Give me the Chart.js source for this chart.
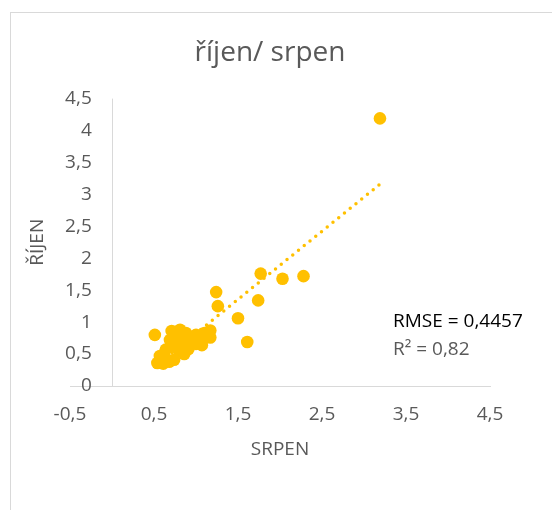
<!DOCTYPE html>
<html>
<head>
<meta charset="utf-8">
<script src="https://cdn.jsdelivr.net/npm/chart.js@4/dist/chart.umd.min.js"></script>
<style>
  body { margin: 0; background: #fff; }
  #frame { position: absolute; left: 10px; top: 12px; width: 600px; height: 600px; border: 1px solid #d9d9d9; }
  #myChart { position: absolute; left: 0; top: 0; }
</style>
</head>
<body>
<div id="frame"></div>
<canvas id="myChart" width="552" height="510"></canvas>
<script>
const ctx = document.querySelector('#myChart');

// srpen (x) / říjen (y)
const srpen = [3.19, 1.77, 2.03, 2.28, 1.24, 1.26, 1.74, 1.50, 1.61, 0.51, 1.17, 1.17, 1.07, 0.91,
  0.54, 0.61, 0.68, 0.74, 0.57, 0.64, 0.71, 0.69, 0.76, 0.71, 0.81, 0.88, 0.81, 0.88, 0.93, 1.00,
  1.05, 1.10, 1.00, 0.79, 0.86, 0.59, 0.65]
const rijen = [4.19, 1.76, 1.68, 1.72, 1.47, 1.25, 1.34, 1.06, 0.69, 0.80, 0.87, 0.76, 0.64, 0.58,
  0.36, 0.35, 0.38, 0.41, 0.47, 0.57, 0.63, 0.72, 0.79, 0.86, 0.88, 0.83, 0.69, 0.60, 0.72, 0.66,
  0.75, 0.83, 0.80, 0.57, 0.50, 0.40, 0.42]

// linear trendline end points
const trendX = [0.51, 3.19]
const trendY = [0.30, 3.16]

const xMin = -0.5, xMax = 4.5
const yMin = 0, yMax = 4.5

const rmseText = 'RMSE = 0,4457'
const r2Text = 'R² = 0,82'

const gold = '#FFC000'
const grey = '#595959'
const lineGrey = '#d9d9d9'
const fontFamily = "'Open Sans', sans-serif"
const fs = 19

const comma = (v) => String(Math.round(v * 10) / 10).replace('.', ',')

const notes = {
  id: 'notes',
  afterDraw(chart) {
    const c = chart.ctx
    c.save()
    c.font = fs + 'px ' + fontFamily
    c.textAlign = 'left'
    c.textBaseline = 'middle'
    c.fillStyle = '#000'
    c.fillText(rmseText, 393, 322)
    c.fillStyle = grey
    c.fillText(r2Text, 393, 350)
    c.restore()
  }
}

const data = {
  datasets: [{
    label: 'trend',
    data: trendX.map((x, i) => ({ x: x, y: trendY[i] })),
    showLine: true,
    borderColor: gold,
    borderWidth: 3.5,
    borderDash: [0, 7.4],
    borderCapStyle: 'round',
    pointRadius: 0,
    order: 0
  }, {
    label: 'říjen',
    data: srpen.map((x, i) => ({ x: x, y: rijen[i] })),
    backgroundColor: gold,
    borderWidth: 0,
    pointRadius: 6.3,
    order: 1
  }]
};

const config = {
  type: 'scatter',
  data: data,
  options: {
    responsive: false,
    animation: false,
    events: [],
    layout: { padding: { left: 10, right: 22, top: 0, bottom: 46 } },
    plugins: {
      legend: { display: false },
      tooltip: { enabled: false },
      title: {
        display: true,
        text: 'říjen/ srpen',
        color: grey,
        font: { family: fontFamily, size: 28, weight: 'normal' },
        padding: { top: 36, bottom: 29 }
      }
    },
    scales: {
      x: {
        type: 'linear',
        min: xMin,
        max: xMax,
        afterFit: (s) => { s.height = 78 },
        // vertical axis line at x = 0
        afterBuildTicks: (s) => { s.ticks.push({ value: 0 }); s.ticks.sort((a, b) => a.value - b.value) },
        grid: { display: true, drawTicks: false, color: (c) => c.tick && c.tick.value === 0 ? lineGrey : 'transparent' },
        border: { color: lineGrey, width: 1 },
        ticks: { stepSize: 1, padding: 17.6, color: grey, font: { family: fontFamily, size: fs },
          callback: (v) => v === 0 ? '' : comma(v) },
        title: { display: true, text: 'SRPEN', color: grey, font: { family: fontFamily, size: fs }, padding: { top: 0, bottom: 2.6 } }
      },
      y: {
        type: 'linear',
        position: 'left',
        min: yMin,
        max: yMax,
        afterFit: (s) => { s.width = 60 },
        grid: { display: false, drawTicks: false },
        border: { display: false },
        ticks: { stepSize: 0.5, mirror: true, crossAlign: 'far', padding: -4.9, color: grey,
          font: { family: fontFamily, size: fs }, callback: comma },
        title: { display: true, text: 'ŘÍJEN', color: grey, font: { family: fontFamily, size: fs }, padding: { top: 16, bottom: 0 } }
      },
      yRight: {
        axis: 'y',
        position: 'right',
        afterFit: (s) => { s.width = 40 },
        grid: { display: false, drawTicks: false },
        border: { display: false },
        ticks: { display: false }
      }
    }
  },
  plugins: [notes]
};

const myChart = new Chart(ctx, config)
</script>
</body>
</html>
